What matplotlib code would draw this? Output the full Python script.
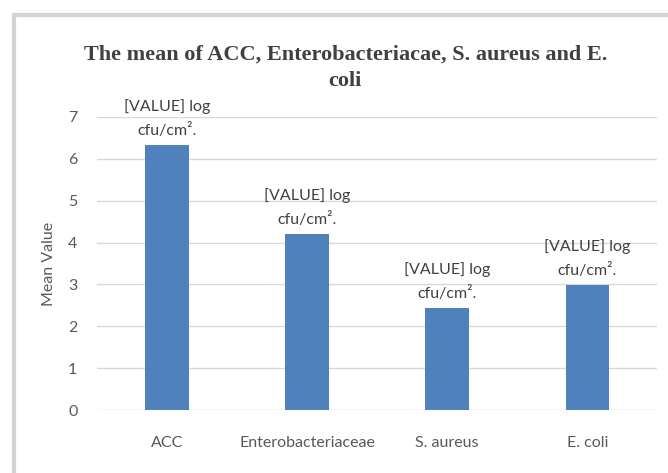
import matplotlib.pyplot as plt
from matplotlib.patches import Rectangle

categories = ['ACC', 'Enterobacteriaceae', 'S. aureus', 'E. coli']
means = [6.33, 4.21, 2.44, 2.99]
bar_labels = ['[VALUE] log\ncfu/cm².'] * 4

sans = ['Lato', 'DejaVu Sans']
grey = '#595959'

fig = plt.figure(figsize=(6.68, 4.73), dpi=100)
ax = fig.add_axes([0.145, 0.133, 0.839, 0.620])

x = range(len(categories))
bars = ax.bar(x, means, width=0.31, color='#4f81bd', zorder=3)
ax.set_xlim(-0.5, 3.5)
ax.set_ylim(0, 7)
ax.set_yticks(range(8))
ax.yaxis.grid(True, color='#d9d9d9', linewidth=1, zorder=0)
for s in ax.spines.values():
    s.set_visible(False)
ax.tick_params(length=0, colors=grey, labelsize=11.5, pad=14)
ax.tick_params(axis='x', pad=19)
ax.set_xticks(list(x))
ax.set_xticklabels(categories, family=sans)
for t in ax.get_yticklabels():
    t.set_family(sans)
ax.set_ylabel('Mean Value', color=grey, fontsize=11.5, labelpad=9, family=sans)

for b, lab in zip(bars, bar_labels):
    ax.annotate(lab, (b.get_x() + b.get_width() / 2, b.get_height()),
                xytext=(0, 5), textcoords='offset points', ha='center',
                va='bottom', fontsize=11.5, color='#404040', family=sans,
                linespacing=1.75)

fig.text(0.517, 0.857, 'The mean of ACC, Enterobacteriacae, S. aureus and E.\ncoli',
         ha='center', va='center', fontsize=16, fontweight='bold',
         family='Liberation Serif', color='#404040', linespacing=1.45)

# chart frame
fig.patches.append(Rectangle((0.021, -0.05), 1.2, 1.018, transform=fig.transFigure,
                             fill=False, edgecolor='#d3d3d3', linewidth=3))

fig.savefig('out.png', dpi=100)
